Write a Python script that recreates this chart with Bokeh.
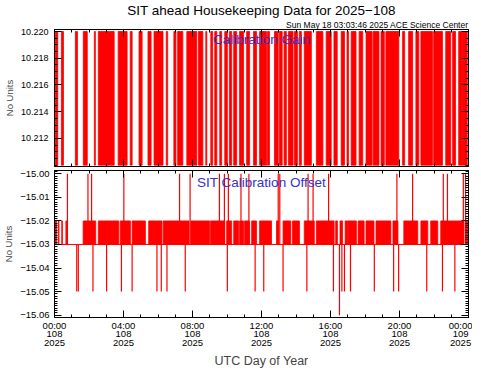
from bokeh.plotting import figure
from bokeh.layouts import column
from bokeh.models import FixedTicker, LinearAxis, Label, Range1d, ColumnDataSource, Title
from bokeh.embed import file_html
from bokeh.resources import INLINE

FONT = "Liberation Sans"
RED = "#ff0000"
BLUE = "#3333c8"

title_text = "SIT ahead Housekeeping Data for 2025\u2212108"
subtitle_text = "Sun May 18 03:03:46 2025 ACE Science Center"
x_label = "UTC Day of Year"
y_label = "No Units"
gain_name = "Calibration Gain"
offset_name = "SIT Calibration Offset"

# x ticks (hours of day 108)
x_ticks = [0, 4, 8, 12, 16, 20, 24]
x_tick_labels = ["00:00\n108\n2025", "04:00\n108\n2025", "08:00\n108\n2025",
                 "12:00\n108\n2025", "16:00\n108\n2025", "20:00\n108\n2025",
                 "00:00\n109\n2025"]

# Calibration gain: intervals (hours) where the gain toggles to the high value
gain_low = 10.210
gain_high = 10.220
gain_start = [0.04, 0.40, 1.21, 1.67, 2.31, 2.54, 3.69, 4.39, 4.90, 5.42, 5.77, 6.48,
              6.92, 7.14, 7.67, 8.35, 8.77, 9.06, 9.29, 9.58, 9.87, 10.14, 10.39,
              10.73, 11.14, 11.54, 11.89, 12.35, 12.75, 13.04, 13.31, 13.56, 13.91,
              14.19, 14.48, 15.18, 15.75, 16.20, 16.62, 16.96, 17.20, 17.66, 18.06,
              18.47, 18.93, 19.21, 20.18, 20.53, 20.95, 21.24, 21.98, 22.68, 23.08,
              23.43, 23.66]
gain_end = [0.19, 0.52, 1.33, 1.90, 2.37, 3.46, 4.21, 4.50, 5.08, 5.60, 6.29, 6.56,
            7.04, 7.44, 8.25, 8.60, 8.83, 9.17, 9.41, 9.69, 10.02, 10.27, 10.56,
            10.96, 11.31, 11.71, 12.29, 12.46, 12.97, 13.20, 13.44, 13.83, 14.08,
            14.31, 14.89, 15.56, 16.04, 16.39, 16.81, 17.04, 17.48, 17.87, 18.41,
            18.81, 19.12, 19.96, 20.30, 20.76, 21.12, 21.91, 22.49, 22.97, 23.25,
            23.64, 23.93]
gain_ticks = [10.212, 10.214, 10.216, 10.218, 10.220]
gain_tick_labels = ["10.212", "10.214", "10.216", "10.218", "10.220"]

# Calibration offset
offset_base = -15.03
offset_alt = -15.02
offset_block_start = [0.00, 0.22, 0.42, 0.66, 1.66, 2.54, 3.81, 4.50, 5.46, 6.30, 7.90,
                      9.05, 9.98, 10.39, 10.73, 11.02, 11.43, 11.89, 12.87, 13.25,
                      13.80, 14.48, 15.18, 16.30, 16.55, 16.85, 17.02, 17.60, 18.06,
                      18.64, 19.62, 20.25, 21.24, 21.81, 22.39, 23.80]
offset_block_end = [0.12, 0.26, 0.46, 0.72, 2.39, 3.73, 4.40, 5.27, 6.23, 7.80, 9.00,
                    9.87, 10.27, 10.67, 10.96, 11.31, 11.71, 12.58, 12.98, 13.70,
                    14.20, 15.06, 16.21, 16.40, 16.70, 17.00, 17.50, 17.95, 18.52,
                    19.50, 19.91, 21.06, 21.64, 22.22, 23.72, 23.95]
offset_spike_t = [0.75, 1.94, 2.15, 4.02, 7.25, 7.86, 9.56, 9.85, 10.08, 10.81, 11.27,
                  12.97, 13.06, 14.70, 14.99, 15.89, 19.85, 20.76, 22.54, 22.78, 23.70,
                  23.83,
                  1.29, 1.38, 2.23, 3.02, 3.88, 4.50, 5.94, 6.19, 6.52, 7.58, 10.02,
                  11.63, 12.13, 13.25, 14.63, 16.17, 16.52, 16.66, 16.81, 17.16, 18.54,
                  19.66, 19.95, 21.58, 22.49, 23.21]
offset_spike_v = [-15.00] * 22 + [-15.05, -15.05, -15.05, -15.05, -15.05, -15.05,
                                   -15.05, -15.05, -15.05, -15.05, -15.05, -15.05,
                                   -15.05, -15.05, -15.05, -15.05, -15.06, -15.05,
                                   -15.05, -15.05, -15.05, -15.05, -15.05, -15.05,
                                   -15.05, -15.05]
offset_ticks = [-15.06, -15.05, -15.04, -15.03, -15.02, -15.01, -15.00]
offset_tick_labels = ["\u221215.06", "\u221215.05", "\u221215.04", "\u221215.03",
                      "\u221215.02", "\u221215.01", "\u221215.00"]


def style_axis(ax, labels=True, fs="9px"):
    ax.axis_line_color = "black"
    ax.major_tick_line_color = "black"
    ax.minor_tick_line_color = "black"
    ax.major_tick_in = 7
    ax.major_tick_out = 0
    ax.minor_tick_in = 3
    ax.minor_tick_out = 0
    ax.major_label_text_font = FONT
    ax.axis_label_text_font = FONT
    ax.axis_label_text_font_style = "normal"
    ax.axis_label_text_font_size = "9.5px"
    ax.major_label_text_color = "black"
    if labels:
        ax.major_label_text_font_size = fs
    else:
        ax.major_label_text_font_size = "1px"
        ax.major_label_text_color = None
        ax.major_label_standoff = 0


def make_fig(fh, yr, border_top, border_bottom):
    p = figure(frame_width=414, frame_height=fh, output_backend="svg",
               toolbar_location=None,
               x_range=Range1d(0, 24), y_range=yr,
               x_axis_location=None, y_axis_location=None,
               min_border_left=46, min_border_right=4,
               min_border_top=border_top, min_border_bottom=border_bottom)
    p.grid.visible = False
    p.outline_line_color = "black"
    p.background_fill_color = "white"
    p.border_fill_color = "white"
    return p


x_minor = list(range(0, 25))

# ---------------- top panel ----------------
p1 = make_fig(137, Range1d(10.2099, 10.22015), 16, 2)
gsrc = ColumnDataSource(dict(left=gain_start, right=gain_end,
                             bottom=[gain_low] * len(gain_start),
                             top=[gain_high] * len(gain_start)))
p1.quad(left="left", right="right", bottom="bottom", top="top", source=gsrc,
        fill_color=RED, line_color=RED, line_width=0.8)

gain_minor = [10.2100 + 0.0005 * i for i in range(21)]
ax = LinearAxis(ticker=FixedTicker(ticks=gain_ticks, minor_ticks=gain_minor),
                axis_label=y_label)
ax.major_label_overrides = dict(zip(gain_ticks, gain_tick_labels))
style_axis(ax)
ax.major_label_standoff = 6
ax.axis_label_standoff = 3
p1.add_layout(ax, "left")
ax = LinearAxis(ticker=FixedTicker(ticks=gain_ticks, minor_ticks=gain_minor))
style_axis(ax, labels=False)
p1.add_layout(ax, "right")
for side in ("above", "below"):
    ax = LinearAxis(ticker=FixedTicker(ticks=x_ticks, minor_ticks=x_minor))
    style_axis(ax, labels=False)
    p1.add_layout(ax, side)

p1.add_layout(Title(text=subtitle_text, align="right", text_font=FONT,
                    text_font_size="8.5px", text_font_style="normal",
                    text_color="black", standoff=0, offset=0), "above")
p1.add_layout(Title(text=title_text, align="center", text_font=FONT,
                    text_font_size="13.5px", text_font_style="normal",
                    text_color="black", standoff=0, offset=0), "above")

p1.add_layout(Label(x=12, y=10.2200, text=gain_name, text_align="center",
                    text_baseline="top", text_color=BLUE, text_font=FONT,
                    text_font_size="13.5px"))

# ---------------- bottom panel ----------------
p2 = make_fig(147, Range1d(-15.061, -14.9986), 2, 40)
p2.line(x=[0, 24], y=[offset_base, offset_base], line_color=RED, line_width=1)
osrc = ColumnDataSource(dict(left=offset_block_start, right=offset_block_end,
                             bottom=[offset_base] * len(offset_block_start),
                             top=[offset_alt] * len(offset_block_start)))
p2.quad(left="left", right="right", bottom="bottom", top="top", source=osrc,
        fill_color=RED, line_color=RED, line_width=0.8)
ssrc = ColumnDataSource(dict(x=offset_spike_t, y0=[offset_base] * len(offset_spike_t),
                             y1=offset_spike_v))
p2.segment(x0="x", y0="y0", x1="x", y1="y1", source=ssrc, line_color=RED, line_width=1.2)

off_minor = [-15.061 + 0.001 * i for i in range(63)]
ax = LinearAxis(ticker=FixedTicker(ticks=offset_ticks, minor_ticks=off_minor),
                axis_label=y_label)
ax.major_label_overrides = dict(zip(offset_ticks, offset_tick_labels))
style_axis(ax, fs="9.5px")
ax.major_label_standoff = 5
ax.axis_label_standoff = 3
p2.add_layout(ax, "left")
ax = LinearAxis(ticker=FixedTicker(ticks=offset_ticks, minor_ticks=off_minor))
style_axis(ax, labels=False)
p2.add_layout(ax, "right")
ax = LinearAxis(ticker=FixedTicker(ticks=x_ticks, minor_ticks=x_minor))
style_axis(ax, labels=False)
p2.add_layout(ax, "above")
ax = LinearAxis(ticker=FixedTicker(ticks=x_ticks, minor_ticks=x_minor), axis_label=x_label)
ax.major_label_overrides = dict(zip(x_ticks, x_tick_labels))
style_axis(ax, fs="9.5px")
ax.major_label_text_line_height = 0.8
ax.major_label_standoff = 2
ax.axis_label_standoff = 3
ax.axis_label_text_font_size = "12.5px"
p2.add_layout(ax, "below")

p2.add_layout(Label(x=12, y=-15.0003, text=offset_name, text_align="center",
                    text_baseline="top", text_color=BLUE, text_font=FONT,
                    text_font_size="13.5px"))

layout = column(p1, p2, spacing=0)
open("out.html", "w").write(file_html(layout, INLINE))
